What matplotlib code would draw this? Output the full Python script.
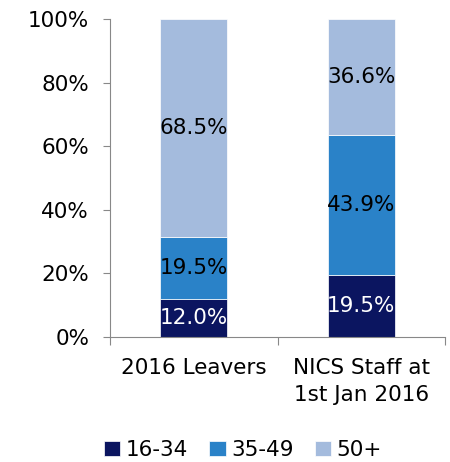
import numpy as np
import matplotlib
matplotlib.use("Agg")
import matplotlib.pyplot as plt
from matplotlib.ticker import FixedLocator, FuncFormatter

plt.rcParams['font.family'] = ['DejaVu Sans']

categories = ["2016 Leavers", "NICS Staff at\n1st Jan 2016"]
age_groups = ["16-34", "35-49", "50+"]
share_16_34 = [12.0, 19.5]
share_35_49 = [19.5, 43.9]
share_50_plus = [68.5, 36.6]

colors = ["#0b1560", "#2a82c8", "#a4bbdd"]
label_colors = ["white", "black", "black"]
fs = 15.5

fig = plt.figure(figsize=(4.5, 4.62), dpi=100)
ax = fig.add_axes([0.2444, 0.2706, 0.7446, 0.6883])

x = np.arange(len(categories))
bottom = np.zeros(len(categories))
for vals, name, col, lcol in zip([share_16_34, share_35_49, share_50_plus],
                                 age_groups, colors, label_colors):
    vals = np.array(vals)
    ax.bar(x, vals, 0.4, bottom=bottom, color=col, label=name,
           edgecolor="white", linewidth=0.5)
    for xi, b, v in zip(x, bottom, vals):
        ax.text(xi, b + v / 2, f"{v:.1f}%", ha="center", va="center",
                fontsize=fs, color=lcol)
    bottom += vals

ax.set_xlim(-0.5, 1.5)
ax.set_ylim(0, 100)
ax.set_yticks(np.arange(0, 101, 20))
ax.yaxis.set_major_formatter(FuncFormatter(lambda v, p: f"{v:.0f}%"))
ax.tick_params(axis="y", labelsize=fs, length=5, color="#888888", pad=10)

# category labels centred on bars, ticks at category boundaries
ax.set_xticks([-0.5, 0.5, 1.5])
ax.set_xticklabels([])
ax.xaxis.set_minor_locator(FixedLocator(x))
ax.set_xticklabels(categories, minor=True, fontsize=fs, linespacing=1.45)
ax.tick_params(axis="x", which="major", length=6, color="#888888")
ax.tick_params(axis="x", which="minor", length=0, pad=15)

for s in ["top", "right"]:
    ax.spines[s].set_visible(False)
for s in ["left", "bottom"]:
    ax.spines[s].set_color("#888888")

fig.legend(loc="center", bbox_to_anchor=(0.54, 1 - 450 / 462), ncol=3,
           frameon=False, fontsize=fs, handlelength=0.75, handleheight=0.65,
           handletextpad=0.25, columnspacing=1.0)

fig.savefig("out.png", dpi=100)
